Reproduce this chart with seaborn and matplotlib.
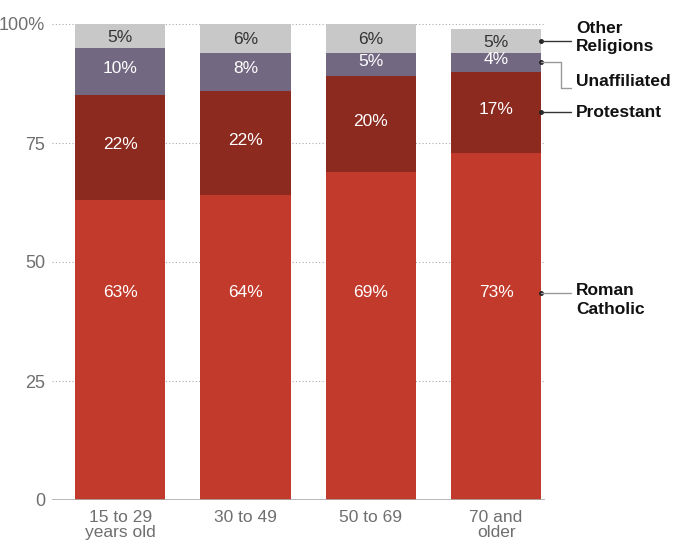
import matplotlib
matplotlib.use('Agg')
import matplotlib.pyplot as plt
import seaborn as sns
import numpy as np

## data
age_groups = ['15 to 29\nyears old', '30 to 49', '50 to 69', '70 and\nolder']
catholic = [63, 64, 69, 73]
protestant = [22, 22, 20, 17]
unaffiliated = [10, 8, 5, 4]
other = [5, 6, 6, 5]

layer_names = ['Roman\nCatholic', 'Protestant', 'Unaffiliated', 'Other\nReligions']
layer_colors = ['#c23a2b', '#8c2a1f', '#736882', '#c8c8c8']
label_colors = ['white', 'white', 'white', '#333333']

sns.set_style('white')
plt.rcParams['font.family'] = ['Liberation Sans', 'DejaVu Sans']

fig = plt.figure(figsize=(6.83, 5.48), dpi=100)
ax = fig.add_axes([52 / 683, 48 / 548, (545 - 52) / 683, (500 - 24) / 548])

layers = [catholic, protestant, unaffiliated, other]
tops = np.cumsum(layers, axis=0)
bottoms = tops - np.array(layers)

### draw from the top layer down so each cumulative bar shows its own segment
for i in range(len(layers) - 1, -1, -1):
    sns.barplot(x=age_groups, y=tops[i], color=layer_colors[i], saturation=1,
                width=0.72, ax=ax, edgecolor='none', zorder=2)

### value labels inside the segments
for i, vals in enumerate(layers):
    for j, v in enumerate(vals):
        if i == 0:
            y = 43.5
        elif i == 3:
            y = bottoms[i][j] + v / 2 - 0.3
        else:
            y = bottoms[i][j] + v / 2 + 0.6
        ax.text(j, y, f'{v}%', ha='center', va='center', color=label_colors[i],
                fontsize=12.5, zorder=3)

## axes styling
ax.set_xlim(-0.543, 3.39)
ax.set_ylim(0, 100)
ax.set_yticks([0, 25, 50, 75, 100])
ax.set_yticklabels(['0', '25', '50', '75', '100%'])
for yv in [25, 50, 75, 100]:
    ax.axhline(yv, color='#aaaaaa', linestyle=(0, (1, 2)), linewidth=0.8, zorder=1)
ax.axhline(0, color='#aaaaaa', linewidth=1.2, zorder=3)
for s in ax.spines.values():
    s.set_visible(False)
ax.tick_params(axis='both', length=0, labelsize=13, labelcolor='#6f6f6f')
ax.tick_params(axis='y', pad=5)
ax.tick_params(axis='x', pad=7, labelsize=12.5)
for lbl in ax.get_xticklabels():
    lbl.set_linespacing(1.05)
ax.set_xlabel('')
ax.set_ylabel('')

## right side labels with leader lines from the last bar
edge = 3 + 0.36
dot_y = [43.5, bottoms[1][3] + protestant[3] / 2, bottoms[2][3] + unaffiliated[3] / 2,
         bottoms[3][3] + other[3] / 2]
text_x = 3.64
line_end = 3.6
for i, name in enumerate(layer_names):
    yd = dot_y[i]
    ax.plot([edge], [yd], marker='o', color='#222222', markersize=2.5, clip_on=False, zorder=4)
    if name == 'Unaffiliated':
        ax.plot([edge, 3.52, 3.52, line_end], [yd, yd, 86.5, 86.5], color='#999999',
                linewidth=1, clip_on=False, zorder=4)
        ty = 88.0
        va = 'center'
    elif name == 'Other\nReligions':
        ax.plot([edge, line_end], [yd, yd], color='#333333', linewidth=1, clip_on=False, zorder=4)
        ty = yd - 2.9
        va = 'bottom'
    elif name == 'Roman\nCatholic':
        ax.plot([edge, line_end], [yd, yd], color='#999999', linewidth=1, clip_on=False, zorder=4)
        ty = yd + 2.0
        va = 'top'
    else:
        ax.plot([edge, line_end], [yd, yd], color='#333333', linewidth=1, clip_on=False, zorder=4)
        ty = yd
        va = 'center'
    ax.text(text_x, ty, name, ha='left', va=va, fontsize=12.5, fontweight='bold',
            color='#111111', linespacing=1.3, clip_on=False)

fig.savefig('out.png', dpi=100)
